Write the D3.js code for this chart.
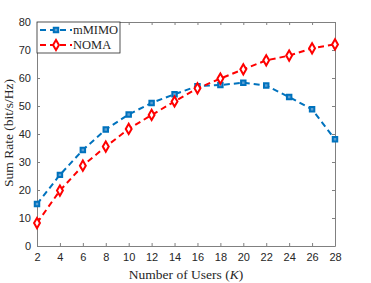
<!DOCTYPE html>
<html>
<head>
<meta charset="utf-8">
<script src="https://cdn.jsdelivr.net/npm/d3@7"></script>
<style>
  html, body { margin: 0; padding: 0; background: #fff; }
  svg { display: block; }
  .tick text { font-family: "Liberation Sans", Arial, sans-serif; font-size: 11px; fill: #262626; }
  .lbl { font-family: "Liberation Serif", "DejaVu Serif", serif; font-size: 13.5px; fill: #262626; }
  .leg { font-family: "Liberation Serif", "DejaVu Serif", serif; font-size: 12.5px; fill: #262626; }
</style>
</head>
<body>
<div id="chart"></div>
<script>
const users = [2, 4, 6, 8, 10, 12, 14, 16, 18, 20, 22, 24, 26, 28];
const mmimo = [15, 25.4, 34.3, 41.6, 47, 51.1, 54.2, 57.1, 57.5, 58.3, 57.3, 53.2, 48.8, 38.1];
const noma = [8.2, 19.8, 28.7, 35.5, 41.8, 46.8, 51.6, 56.3, 59.8, 63.1, 66.3, 68, 70.6, 72];
const xTicks = [2, 4, 6, 8, 10, 12, 14, 16, 18, 20, 22, 24, 26, 28];
const yTicks = [0, 10, 20, 30, 40, 50, 60, 70, 80];

const W = 371, H = 283;
const margin = { top: 22, right: 36, bottom: 37, left: 37 };
const width = W - margin.left - margin.right;
const height = H - margin.top - margin.bottom;

const svg = d3.select("#chart").append("svg")
  .attr("width", W).attr("height", H);
const g = svg.append("g")
  .attr("transform", `translate(${margin.left},${margin.top})`);

const x = d3.scaleLinear().domain([2, 28]).range([0, width]);
const y = d3.scaleLinear().domain([0, 80]).range([height, 0]);

const axisColor = "#808080";

// axes (ticks inward, box)
function styleAxis(sel) {
  sel.select(".domain").attr("stroke", axisColor);
  sel.selectAll(".tick line").attr("stroke", axisColor);
}
g.append("g").attr("transform", `translate(0,${height})`)
  .call(d3.axisBottom(x).tickValues(xTicks).tickSizeInner(-3).tickSizeOuter(0).tickPadding(7))
  .call(styleAxis);
g.append("g")
  .call(d3.axisTop(x).tickValues(xTicks).tickSizeInner(-3).tickSizeOuter(0).tickFormat(""))
  .call(styleAxis);
g.append("g")
  .call(d3.axisLeft(y).tickValues(yTicks).tickSizeInner(-3).tickSizeOuter(0).tickPadding(6))
  .call(styleAxis);
g.append("g").attr("transform", `translate(${width},0)`)
  .call(d3.axisRight(y).tickValues(yTicks).tickSizeInner(-3).tickSizeOuter(0).tickFormat(""))
  .call(styleAxis);

const series = [
  { name: "mMIMO", values: mmimo, color: "#0072BD", fill: "#5d9fd3", marker: d3.symbolSquare, size: 20 },
  { name: "NOMA", values: noma, color: "#FF0000", fill: "#fff", marker: d3.symbolDiamond, size: 30 }
];

const line = d3.line().x(d => x(d[0])).y(d => y(d[1]));

series.forEach(s => {
  const pts = users.map((u, i) => [u, s.values[i]]);
  g.append("path")
    .datum(pts)
    .attr("fill", "none")
    .attr("stroke", s.color)
    .attr("stroke-width", 2)
    .attr("stroke-dasharray", "6,4")
    .attr("d", line);
  g.selectAll(null)
    .data(pts)
    .enter().append("path")
    .attr("transform", d => `translate(${x(d[0])},${y(d[1])})`)
    .attr("d", d3.symbol().type(s.marker).size(s.size))
    .attr("fill", s.fill)
    .attr("stroke", s.color)
    .attr("stroke-width", 2);
});

// legend
const leg = g.append("g").attr("transform", "translate(0,0)");
leg.append("rect")
  .attr("x", 0).attr("y", 0).attr("width", 83).attr("height", 31)
  .attr("fill", "#fff").attr("stroke", "#262626").attr("stroke-width", 0.8);
series.forEach((s, i) => {
  const ly = 8 + i * 15;
  leg.append("line")
    .attr("x1", 3).attr("x2", 35).attr("y1", ly).attr("y2", ly)
    .attr("stroke", s.color).attr("stroke-width", 2)
    .attr("stroke-dasharray", "6,4");
  leg.append("path")
    .attr("transform", `translate(19,${ly})`)
    .attr("d", d3.symbol().type(s.marker).size(s.size))
    .attr("fill", s.fill).attr("stroke", s.color).attr("stroke-width", 2);
  leg.append("text")
    .attr("class", "leg")
    .attr("x", 36).attr("y", ly + 4)
    .text(s.name);
});

// axis labels
const xl = svg.append("text").attr("class", "lbl")
  .attr("x", margin.left + width / 2).attr("y", 279)
  .attr("text-anchor", "middle");
xl.append("tspan").text("Number of Users (");
xl.append("tspan").attr("font-style", "italic").text("K");
xl.append("tspan").text(")");

svg.append("text").attr("class", "lbl")
  .attr("transform", `translate(13,${margin.top + height / 2 - 1}) rotate(-90)`)
  .attr("text-anchor", "middle")
  .text("Sum Rate (bit/s/Hz)");
</script>
</body>
</html>
